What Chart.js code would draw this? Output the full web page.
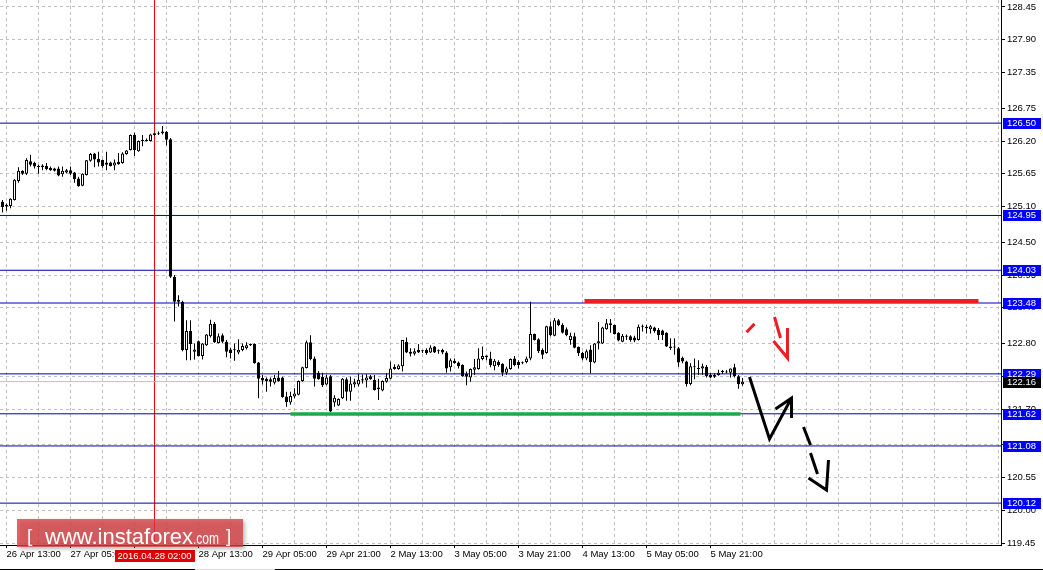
<!DOCTYPE html>
<html><head><meta charset="utf-8">
<script src="https://cdn.jsdelivr.net/npm/chart.js@4.4.1/dist/chart.umd.min.js"></script>
<style>html,body{margin:0;padding:0;background:#fff;overflow:hidden}canvas{display:block}</style>
</head><body>
<canvas id="c" width="1043" height="570"></canvas>
<script>
// ---- data (H1 candles, index 0 = 26 Apr 13:00) ----
const firstCandle = -1;
const openPrices = [
125.18,125.13,125.11,125.21,125.53,125.70,125.65,125.86,125.83,125.77,
125.76,125.78,125.75,125.74,125.74,125.64,125.67,125.71,125.67,125.57,
125.45,125.63,125.87,125.99,125.90,125.88,125.84,125.84,125.79,125.85,
125.83,125.98,126.05,126.30,126.03,126.20,126.20,126.20,126.30,126.32,
126.33,126.35,126.23,123.92,123.50,123.50,122.69,123.01,122.66,122.84,
122.59,122.77,122.92,123.13,122.81,122.94,122.83,122.70,122.69,122.65,
122.69,122.72,122.79,122.79,122.48,122.22,122.21,122.20,122.14,122.23,
122.23,121.91,121.81,121.91,121.94,122.17,122.39,122.82,122.55,122.31,
122.24,122.11,122.25,121.81,121.76,121.88,122.20,121.99,122.11,122.11,
122.20,122.18,122.25,122.19,122.06,122.01,122.16,122.21,122.41,122.37,
122.42,122.83,122.66,122.63,122.69,122.67,122.69,122.65,122.75,122.67,
122.69,122.65,122.40,122.51,122.48,122.44,122.29,122.23,122.36,122.37,
122.54,122.57,122.55,122.42,122.49,122.46,122.31,122.37,122.55,122.49,
122.48,122.49,122.55,122.96,122.87,122.69,122.64,123.09,122.93,123.19,
123.11,123.04,122.86,122.92,122.74,122.64,122.55,122.70,122.48,122.80,
122.80,123.04,123.14,123.11,122.98,122.83,122.915,122.92,122.90,122.86,
123.08,123.08,123.04,123.07,123.03,123.02,122.98,122.75,122.735,122.72,
122.56,122.50,122.12,122.40,122.37,122.38,122.41,122.27,122.27,122.27,
122.32,122.315,122.31,122.40,122.25,122.115];
const highPrices = [
125.21,125.15,125.24,125.56,125.76,125.71,125.91,125.97,125.85,125.80,
125.81,125.83,125.77,125.75,125.77,125.77,125.73,125.77,125.68,125.60,
125.66,125.88,126.00,126.00,126.02,125.89,126.02,125.85,125.89,126.00,
126.01,126.05,126.31,126.34,126.21,126.30,126.24,126.32,126.34,126.36,
126.45,126.37,126.25,123.95,123.61,123.52,123.19,123.19,122.80,122.85,
122.81,122.96,123.20,123.16,122.97,122.97,122.86,122.73,122.80,122.87,
122.80,122.82,122.80,122.80,122.49,122.27,122.23,122.23,122.27,122.34,
122.24,121.99,121.99,122.05,122.18,122.41,122.85,122.94,122.58,122.34,
122.31,122.27,122.27,121.93,121.88,122.22,122.23,122.24,122.21,122.29,
122.28,122.29,122.27,122.27,122.21,122.18,122.30,122.50,122.45,122.45,
122.86,122.90,122.72,122.72,122.79,122.69,122.72,122.77,122.76,122.70,
122.71,122.67,122.55,122.55,122.50,122.45,122.33,122.38,122.54,122.72,
122.75,122.60,122.66,122.54,122.52,122.47,122.41,122.55,122.59,122.52,
122.50,122.58,123.50,122.97,122.89,122.72,123.10,123.17,123.23,123.21,
123.14,123.07,122.98,122.98,122.75,122.66,122.70,122.77,122.81,123.16,
123.08,123.21,123.21,123.12,122.99,122.96,122.95,122.94,122.93,123.12,
123.12,123.11,123.11,123.08,123.06,123.03,122.99,122.89,122.89,122.74,
122.58,122.51,122.47,122.55,122.52,122.46,122.44,122.30,122.30,122.36,
122.355,122.355,122.38,122.46,122.27,122.22];
const lowPrices = [
125.00,125.03,125.07,125.20,125.50,125.63,125.63,125.77,125.74,125.65,
125.71,125.71,125.70,125.69,125.61,125.60,125.66,125.63,125.50,125.43,
125.44,125.62,125.85,125.76,125.77,125.75,125.71,125.77,125.71,125.80,
125.82,125.97,126.04,125.95,126.02,126.11,126.19,126.19,126.29,126.30,
126.31,126.13,123.90,123.17,123.42,122.67,122.52,122.52,122.53,122.58,
122.53,122.76,122.90,122.81,122.80,122.81,122.57,122.55,122.51,122.62,
122.67,122.70,122.76,122.46,121.88,122.11,121.99,122.08,122.11,122.16,
121.89,121.74,121.77,121.88,121.93,122.16,122.38,122.52,122.08,122.19,
122.07,122.10,121.65,121.74,121.75,121.87,121.84,121.84,122.06,122.08,
122.13,122.06,122.19,122.01,121.85,122.00,122.14,122.20,122.36,122.36,
122.33,122.64,122.58,122.60,122.64,122.64,122.61,122.64,122.64,122.63,
122.62,122.31,122.33,122.46,122.38,122.24,122.10,122.16,122.27,122.36,
122.52,122.52,122.40,122.35,122.41,122.25,122.27,122.36,122.42,122.38,
122.45,122.47,122.52,122.85,122.64,122.54,122.63,122.92,122.92,123.09,
122.97,122.92,122.78,122.72,122.59,122.52,122.52,122.30,122.47,122.70,
122.79,123.03,122.98,122.95,122.84,122.82,122.86,122.83,122.82,122.85,
123.00,122.97,122.97,122.98,122.86,122.86,122.74,122.69,122.61,122.41,
122.47,122.08,122.10,122.20,122.27,122.27,122.23,122.22,122.22,122.26,
122.29,122.30,122.23,122.23,122.04,122.09];
const closePrices = [
125.09,125.10,125.23,125.55,125.70,125.65,125.88,125.80,125.77,125.765,
125.79,125.73,125.71,125.70,125.62,125.70,125.71,125.65,125.56,125.44,
125.65,125.875,125.98,125.89,125.84,125.78,125.80,125.78,125.84,125.81,
125.99,126.04,126.30,126.05,126.20,126.21,126.22,126.31,126.33,126.34,
126.36,126.22,123.92,123.50,123.53,122.69,123.01,122.79,122.70,122.59,
122.80,122.95,123.13,122.82,122.92,122.83,122.66,122.64,122.685,122.695,
122.76,122.77,122.77,122.47,122.21,122.18,122.17,122.16,122.22,122.17,
121.90,121.82,121.92,121.96,122.17,122.40,122.82,122.54,122.21,122.20,
122.10,122.23,121.66,121.89,121.87,122.21,121.99,122.13,122.15,122.19,
122.18,122.23,122.20,122.02,122.03,122.17,122.22,122.38,122.37,122.43,
122.86,122.65,122.63,122.67,122.65,122.675,122.64,122.735,122.65,122.675,
122.65,122.38,122.52,122.47,122.42,122.25,122.24,122.37,122.40,122.55,
122.59,122.60,122.44,122.51,122.44,122.31,122.38,122.54,122.44,122.44,
122.47,122.55,122.96,122.86,122.67,122.61,123.09,122.94,123.19,123.11,
122.98,122.94,122.93,122.73,122.64,122.55,122.67,122.49,122.80,122.84,
123.07,123.14,123.11,122.96,122.85,122.93,122.92,122.86,122.85,123.08,
123.085,123.055,123.09,123.01,122.94,122.94,122.75,122.72,122.74,122.48,
122.50,122.12,122.42,122.405,122.38,122.42,122.25,122.23,122.24,122.31,
122.325,122.32,122.38,122.25,122.115,122.16];

// axis ticks
const xLabelCandles = [0,16,32,48,64,80,96,112,128,144,160,176];
const xLabels = ['26 Apr 13:00','27 Apr 05:00','27 Apr 21:00','28 Apr 13:00','29 Apr 05:00','29 Apr 21:00',
                 '2 May 13:00','3 May 05:00','3 May 21:00','4 May 13:00','5 May 05:00','5 May 21:00'];
const yTickValues = [128.45,127.90,127.35,126.75,126.20,125.65,125.10,124.50,123.95,123.40,122.80,122.25,121.70,121.10,120.55,120.00,119.45];

// horizontal levels and annotations
const levelPrices = [126.50,124.95,124.03,123.48,122.29,121.62,121.08,120.12];
const bidPrice = 122.16;
const markerCandle = 37;           // 2016.04.28 02:00
const markerLabel = '2016.04.28 02:00';
const resistanceZone = [[144.5,123.515],[243,123.515]];
const supportZone = [[71,121.615],[183.5,121.615]];
const redArrow = [[185,122.99],[187,123.13],null,[192,123.245],[193.5,122.893],null,[191.75,122.842],[195.25,122.557],[195.25,123.06]];
const blackArrow1 = [[185.75,122.238],[190.75,121.197],[196.25,121.885],null,[192.25,121.70],[196.25,121.885],[196.25,121.549]];
const blackArrow2 = [[199.25,121.398],[201,121.096],null,[201,120.962],[202.75,120.609],null,[200.5,120.542],[205,120.341],[205.5,120.844]];

// ---- scale geometry ----
const X_MIN = -1.625, X_MAX = 248.625;
const Y_MIN = 119.417, Y_MAX = 128.5675;

const candleX = openPrices.map((_, i) => firstCandle + i);
const wickData = candleX.map((k, i) => ({x: k, y: [lowPrices[i], highPrices[i]]}));
const bodyData = candleX.map((k, i) => ({x: k, y: [openPrices[i], closePrices[i]]}));
const bodyFill = candleX.map((k, i) => closePrices[i] < openPrices[i] ? '#000000' : '#ffffff');

function toPts(arr) {
  let lastX = 0;
  return arr.map(p => { if (p) { lastX = p[0]; return {x: p[0], y: p[1]}; } return {x: lastX, y: null}; });
}
function levelLine(v) { return [{x: X_MIN, y: v}, {x: X_MAX, y: v}]; }

const FONT = '"Liberation Sans", Arial, sans-serif';
const lineBase = {type: 'line', pointRadius: 0, tension: 0, spanGaps: false, fill: false};

const datasets = [];
levelPrices.forEach(v => datasets.push(Object.assign({}, lineBase, {data: levelLine(v), borderColor: '#0000b4', borderWidth: 1, order: 4})));
datasets.push(Object.assign({}, lineBase, {data: levelLine(bidPrice), borderColor: '#c0c0c0', borderWidth: 1, order: 4}));
datasets.push(Object.assign({}, lineBase, {data: [{x: markerCandle, y: Y_MAX}, {x: markerCandle, y: Y_MIN}], borderColor: '#ff0000', borderWidth: 1, order: 4}));
datasets.push({type: 'bar', data: wickData, backgroundColor: '#000', borderWidth: 0, barThickness: 1, grouped: false, inflateAmount: 0, order: 2});
datasets.push({type: 'bar', data: bodyData, backgroundColor: bodyFill, borderColor: '#000', borderWidth: 1, borderSkipped: false,
  barThickness: 3, minBarLength: 1, grouped: false, inflateAmount: 0, order: 1});
datasets.push(Object.assign({}, lineBase, {data: toPts(supportZone), borderColor: '#1fa84a', borderWidth: 3.5, order: 0}));
datasets.push(Object.assign({}, lineBase, {data: toPts(resistanceZone), borderColor: '#ee1c24', borderWidth: 4, order: 0}));
datasets.push(Object.assign({}, lineBase, {data: toPts(redArrow), borderColor: '#ee1c24', borderWidth: 3, order: 0}));
datasets.push(Object.assign({}, lineBase, {data: toPts(blackArrow1), borderColor: '#000', borderWidth: 3, order: 0}));
datasets.push(Object.assign({}, lineBase, {data: toPts(blackArrow2), borderColor: '#000', borderWidth: 3, order: 0}));

const overlay = {
  id: 'overlay',
  afterDraw(chart) {
    const ctx = chart.ctx, ys = chart.scales.y, xs = chart.scales.x, a = chart.chartArea;
    ctx.save();
    // price labels on the axis
    ctx.font = '9.5px ' + FONT;
    ctx.textBaseline = 'middle';
    ctx.textAlign = 'left';
    const box = (v, col) => {
      const py = Math.round(ys.getPixelForValue(v));
      ctx.fillStyle = col; ctx.fillRect(a.right + 2, py - 5, 38, 11);
      ctx.fillStyle = '#fff'; ctx.fillText(v.toFixed(2), a.right + 6, py + 0.5);
    };
    levelPrices.forEach(v => box(v, '#0000ff'));
    box(bidPrice, '#000000');
    // highlighted time label
    const mx = xs.getPixelForValue(markerCandle);
    ctx.fillStyle = '#e00000';
    ctx.fillRect(Math.round(mx) - 40, a.bottom + 5, 80, 12);
    ctx.fillStyle = '#fff'; ctx.textAlign = 'center';
    ctx.fillText(markerLabel, mx, a.bottom + 11.5);
    // watermark
    ctx.save();
    ctx.shadowColor = 'rgba(0,0,0,0.35)'; ctx.shadowBlur = 4; ctx.shadowOffsetX = 2; ctx.shadowOffsetY = 2;
    ctx.fillStyle = 'rgba(216,62,65,0.78)';
    ctx.fillRect(a.left + 17, a.bottom - 26, 226, 28);
    ctx.restore();
    ctx.fillStyle = '#fff'; ctx.textAlign = 'left'; ctx.textBaseline = 'alphabetic';
    const fit = (t, x, y, w) => { const m = ctx.measureText(t).width; ctx.save(); ctx.translate(x, y); ctx.scale(w / m, 1); ctx.fillText(t, 0, 0); ctx.restore(); };
    ctx.font = '22px ' + FONT; fit('www.instaforex', a.left + 45, a.bottom - 1, 148);
    ctx.font = '16px ' + FONT; fit('.com', a.left + 193, a.bottom - 1, 26);
    ctx.font = '19px ' + FONT; ctx.fillText('[', a.left + 27, a.bottom - 3); ctx.fillText(']', a.left + 226, a.bottom - 3);
    // bottom window edge
    ctx.fillStyle = '#000'; ctx.fillRect(0, 569, 195, 1); ctx.fillRect(275, 569, 768, 1);
    ctx.fillStyle = '#d8d8d8'; ctx.fillRect(195, 569, 80, 1);
    ctx.restore();
  }
};

new Chart(document.getElementById('c'), {
  type: 'bar',
  data: {datasets},
  plugins: [overlay],
  options: {
    responsive: false, animation: false, events: [],
    layout: {padding: 0},
    plugins: {legend: {display: false}, tooltip: {enabled: false}},
    scales: {
      x: {
        type: 'linear', min: X_MIN, max: X_MAX, offset: false,
        afterBuildTicks(s) { const t = []; for (let k = 0; k <= X_MAX; k += 8) t.push({value: k}); s.ticks = t; },
        afterFit(s) { s.height = 25; s.paddingLeft = 0; s.paddingRight = 0; },
        grid: {offset: false, color: '#c0c0c0', lineWidth: 1, tickLength: 3,
          tickColor: c => (c.tick && xLabelCandles.includes(c.tick.value)) ? '#000' : 'rgba(0,0,0,0)'},
        border: {display: true, color: '#000', width: 1, dash: [3, 3]},
        ticks: {autoSkip: false, maxRotation: 0, minRotation: 0, align: 'start', padding: 1, color: '#000',
          font: {family: FONT, size: 9.5},
          callback: v => { const i = xLabelCandles.indexOf(v); return i >= 0 ? xLabels[i] : ''; }}
      },
      y: {
        type: 'linear', position: 'right', min: Y_MIN, max: Y_MAX,
        afterBuildTicks(s) { s.ticks = yTickValues.map(v => ({value: v})); },
        afterFit(s) { s.width = 42; s.paddingTop = 0; s.paddingBottom = 0; },
        grid: {color: '#c0c0c0', lineWidth: 1, tickLength: 4, tickColor: '#000'},
        border: {display: true, color: '#000', width: 1, dash: [3, 3]},
        ticks: {autoSkip: false, padding: 2, color: '#000', font: {family: FONT, size: 9.5},
          callback: v => Number(v).toFixed(2)}
      }
    }
  }
});
</script>
</body></html>
